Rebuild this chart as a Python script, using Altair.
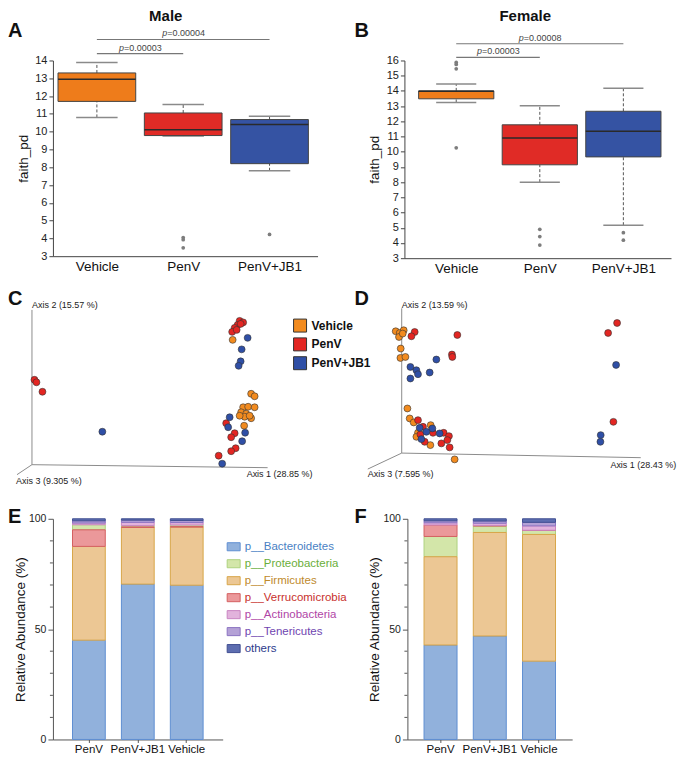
import json
import altair as alt
import pandas as pd

FONT = "Liberation Sans"

# ---------------- data ----------------
groups = ["Vehicle", "PenV", "PenV+JB1"]

# A: Male faith_pd box statistics
male_lo = [10.80, 9.75, 7.80]
male_q1 = [11.70, 9.78, 8.20]
male_med = [12.95, 10.10, 10.40]
male_q3 = [13.30, 11.05, 10.68]
male_hi = [13.88, 11.52, 10.86]
male_out_group = ["PenV", "PenV", "PenV", "PenV+JB1"]
male_out_value = [4.05, 3.93, 3.47, 4.22]
male_p_to = ["PenV", "PenV+JB1"]
male_p_text = ["=0.00003", "=0.00004"]

# B: Female faith_pd box statistics
female_lo = [13.24, 8.00, 5.17]
female_q1 = [13.48, 9.14, 9.66]
female_med = [13.97, 10.90, 11.34]
female_q3 = [14.00, 11.77, 12.66]
female_hi = [14.45, 13.03, 14.17]
female_out_group = ["Vehicle"] * 4 + ["PenV"] * 3 + ["PenV+JB1"] * 2
female_out_value = [15.87, 15.74, 15.45, 10.26, 4.90, 4.42, 3.86, 4.68, 4.18]
female_p_to = ["PenV", "PenV+JB1"]
female_p_text = ["=0.00003", "=0.00008"]

# C: Male PCoA (projected coordinates relative to the 3-D axis origin)
male_pc_group = (["PenV"] * 16 + ["Vehicle"] * 13 + ["PenV+JB1"] * 10)
male_pc_x = [208, 211.5, 206, 203, 200.5, 205, 209, 2.5, 4.5, 10.5, 194.5, 203, 199.5, 204, 199.5, 187,
             201, 219.5, 223, 211.5, 216.5, 223, 209.5, 214.5, 219.5, 213, 218, 208, 212.5,
             216, 210, 209, 207, 70.5, 198, 196.5, 213.5, 210.5, 190.5]
male_pc_y = [144, 142.5, 140, 137, 133, 135, 141, 85, 82.5, 73, 41.5, 31.5, 27.5, 16.5, 13.5, 9,
             125, 71, 68.5, 57.5, 58, 57.5, 52.5, 51, 46.5, 48, 49, 49, 39,
             127, 115.5, 103.5, 99, 33, 47.5, 37.5, 32, 23.5, 1]

# D: Female PCoA
female_pc_group = (["Vehicle"] * 16 + ["PenV"] * 18 + ["PenV+JB1"] * 14)
female_pc_x = [-6, -2, 2, -2.7, 1, -1, -1.3, 3.7, 5.7, 8, 12, 29, 16.3, 28.7, 53, 14.7,
               13, 9.7, 55.7, 50.3, 50.7, 215.7, 206.7, 212, 16.3, 21.3, 18.7, 31.3, 42, 47.3, 45.7, 23, 39.7, 48,
               34.7, 8.7, 14.7, 16.3, 8.7, 28, 214.7, 199.3, 199, 18, 30.7, 24.7, 38, 19.7]
female_pc_y = [122, 120.3, 123, 116.3, 119.7, 104.7, 95.3, 96.3, 44.7, 34.7, 30.7, 28, 20.3, 8, -6.3, 16.3,
               121.3, 117, 118.3, 98.7, 96.3, 130.3, 120.3, 31.3, 33, 26.3, 18.7, 20.3, 20.3, 17, 13, 11.3, 9.7, 5.7,
               93.7, 86.3, 83, 79, 74.7, 80.7, 88.3, 18, 11.3, 25.3, 24.7, 21.3, 19.7, 14]

male_axis_labels = ["Axis 2 (15.57 %)", "Axis 1 (28.85 %)", "Axis 3 (9.305 %)"]
female_axis_labels = ["Axis 2 (13.59 %)", "Axis 1 (28.43 %)", "Axis 3 (7.595 %)"]

# E/F: relative abundance (%)
phyla = ["p__Bacteroidetes", "p__Proteobacteria", "p__Firmicutes", "p__Verrucomicrobia",
         "p__Actinobacteria", "p__Tenericutes", "others"]
bar_groups = ["PenV", "PenV+JB1", "Vehicle"]
male_abund = {
    "p__Bacteroidetes": [45.0, 70.4, 69.9],
    "p__Proteobacteria": [2.3, 0.6, 0.8],
    "p__Firmicutes": [42.5, 25.7, 26.4],
    "p__Verrucomicrobia": [7.5, 0.2, 0.1],
    "p__Actinobacteria": [0.8, 1.5, 1.1],
    "p__Tenericutes": [1.0, 1.0, 0.9],
    "others": [0.9, 0.6, 0.8],
}
female_abund = {
    "p__Bacteroidetes": [42.8, 46.9, 35.5],
    "p__Proteobacteria": [9.2, 2.9, 1.8],
    "p__Firmicutes": [40.0, 46.9, 57.4],
    "p__Verrucomicrobia": [5.2, 0.3, 0.1],
    "p__Actinobacteria": [1.0, 1.0, 2.0],
    "p__Tenericutes": [0.9, 1.0, 1.6],
    "others": [0.9, 1.0, 1.6],
}
male_stack = ["p__Bacteroidetes", "p__Firmicutes", "p__Verrucomicrobia", "p__Proteobacteria",
              "p__Actinobacteria", "p__Tenericutes", "others"]
female_stack = ["p__Bacteroidetes", "p__Firmicutes", "p__Proteobacteria", "p__Verrucomicrobia",
                "p__Actinobacteria", "p__Tenericutes", "others"]
minor_ticks = [10, 20, 30, 40, 60, 70, 80, 90]

# ---------------- styles ----------------
BOX_COLORS = ["#ee7c1b", "#e02b26", "#3553a3"]
PC_COLORS = ["#f28b1f", "#e32622", "#2f4fa6"]
PHYLUM_FILL = ["#91b1dc", "#d3e6a9", "#ecc794", "#eb989a", "#e2b3dc", "#b4a1d6", "#5d6db0"]
PHYLUM_STROKE = ["#5f8fd2", "#aed27f", "#d8a649", "#d45f60", "#c985c2", "#8b73c2", "#404f92"]
PHYLUM_TEXT = ["#4a7fc4", "#6aae3a", "#c08a2c", "#c8302c", "#b045a6", "#6f45b0", "#2e3a8c"]
BOX_HALF = 0.45
CAP_HALF = 0.24
IND = dict(color="independent", fill="independent", stroke="independent")
LEFT = 45  # panel letters sit this far left of the shared column origin


def text_label(txt, x, y, size, weight="bold", align="left"):
    return alt.Chart(pd.DataFrame({"t": [txt]})).mark_text(
        fontSize=size, fontWeight=weight, align=align, baseline="top", color="#111"
    ).encode(x=alt.value(x), y=alt.value(y), text="t:N")


def box_panel(lo, q1, med, q3, hi, out_g, out_v, p_to, p_text, p_levels,
              ydom, xdom, w, h, title, title_xy, letter, letter_xy, title_pad):
    n = len(groups)
    df = pd.DataFrame({"group": groups, "idx": list(range(n)), "lo": lo, "q1": q1,
                       "med": med, "q3": q3, "hi": hi})
    df["xl"] = df["idx"] - BOX_HALF
    df["xr"] = df["idx"] + BOX_HALF
    df["cl"] = df["idx"] - CAP_HALF
    df["cr"] = df["idx"] + CAP_HALF
    out = pd.DataFrame({"idx": [groups.index(g) for g in out_g], "value": out_v})
    pdf = pd.DataFrame({"x0": [0] * len(p_to), "x1": [groups.index(g) for g in p_to],
                        "level": p_levels, "label": p_text})
    pdf["xm"] = (pdf["x0"] + pdf["x1"]) / 2

    xscale = alt.Scale(domain=xdom, nice=False, zero=False)
    xaxis = alt.Axis(values=list(range(n)), labelExpr=f"{json.dumps(groups)}[datum.value]",
                     title=None, ticks=False, grid=False, labelFontSize=13.5, labelPadding=3,
                     labelColor="#111", domainColor="#444", labelFlush=False, labelOverlap=False)
    yscale = alt.Scale(domain=ydom, nice=False, zero=False)
    yaxis = alt.Axis(values=list(range(ydom[0], ydom[1] + 1)), title="faith_pd", titleFontSize=13.5,
                     titleFontWeight="normal", titleColor="#111", titlePadding=title_pad,
                     labelFontSize=11, labelColor="#222", tickSize=4, tickColor="#444",
                     domainColor="#444", grid=False, labelOverlap=False)

    def X(f):
        return alt.X(f, type="quantitative", scale=xscale, axis=xaxis)

    def Y(f):
        return alt.Y(f, type="quantitative", scale=yscale, axis=yaxis)

    base = alt.Chart(df)
    wh_up = base.mark_rule(color="#555", strokeDash=[3, 2], strokeWidth=1).encode(x=X("idx"), y=Y("q3"), y2="hi:Q")
    wh_dn = base.mark_rule(color="#555", strokeDash=[3, 2], strokeWidth=1).encode(x=X("idx"), y=Y("lo"), y2="q1:Q")
    cap_up = base.mark_rule(color="#8a8a8a", strokeWidth=1.5).encode(x=X("cl"), x2="cr:Q", y=Y("hi"))
    cap_dn = base.mark_rule(color="#8a8a8a", strokeWidth=1.5).encode(x=X("cl"), x2="cr:Q", y=Y("lo"))
    box = base.mark_rect(stroke="#444", strokeWidth=1).encode(
        x=X("xl"), x2="xr:Q", y=Y("q1"), y2="q3:Q",
        fill=alt.Fill("group:N", scale=alt.Scale(domain=groups, range=BOX_COLORS), legend=None))
    median = base.mark_rule(color="#2a2a2a", strokeWidth=1.5).encode(x=X("xl"), x2="xr:Q", y=Y("med"))
    outl = alt.Chart(out).mark_circle(size=14, color="#7d7d7d", opacity=1).encode(x=X("idx"), y=Y("value"))
    pl = alt.Chart(pdf).mark_rule(color="#777", strokeWidth=1.2).encode(x=X("x0"), x2="x1:Q", y=Y("level"))
    p_it = alt.Chart(pdf).mark_text(text="p", fontStyle="italic", fontSize=9, align="right",
                                    baseline="bottom", dx=-16, dy=-1, color="#444").encode(x=X("xm"), y=Y("level"))
    p_rest = alt.Chart(pdf).mark_text(fontSize=9, align="left", baseline="bottom", dx=-16, dy=-1,
                                      color="#444").encode(x=X("xm"), y=Y("level"), text="label:N")
    ttl = text_label(title, title_xy[0], title_xy[1], 15, align="center")
    let = text_label(letter, letter_xy[0], letter_xy[1], 20)
    return alt.layer(wh_up, wh_dn, cap_up, cap_dn, box, median, outl, pl, p_it, p_rest, ttl, let).properties(
        width=w, height=h)


def bar_panel(abund, stack, w, h, pad_outer, letter, letter_xy, title_pad):
    rows = []
    for ph in phyla:
        for g, v in zip(bar_groups, abund[ph]):
            rows.append({"group": g, "phylum": ph, "value": v, "rank": stack.index(ph)})
    df = pd.DataFrame(rows)
    yscale = alt.Scale(domain=[0, 100], nice=False, zero=True)
    yaxis = alt.Axis(values=[0, 50, 100], title="Relative Abundance (%)", titleFontSize=13.5,
                     titleFontWeight="normal", titleColor="#111", titlePadding=title_pad,
                     labelFontSize=10.5, labelColor="#222", tickSize=5, tickColor="#555",
                     domainColor="#555", grid=False)
    bars = alt.Chart(df).mark_bar(strokeWidth=1).encode(
        x=alt.X("group:N", sort=bar_groups,
                scale=alt.Scale(domain=bar_groups, paddingInner=0.33, paddingOuter=pad_outer),
                axis=alt.Axis(title=None, labelAngle=0, labelFontSize=11.5, labelColor="#111",
                              tickSize=3, labelPadding=1, domainColor="#555", tickColor="#555")),
        y=alt.Y("value:Q", stack="zero", scale=yscale, axis=yaxis),
        color=alt.Color("phylum:N", scale=alt.Scale(domain=phyla, range=PHYLUM_FILL), legend=None),
        stroke=alt.Stroke("phylum:N", scale=alt.Scale(domain=phyla, range=PHYLUM_STROKE), legend=None),
        order=alt.Order("rank:Q", sort="ascending"),
    )
    minor = alt.Chart(pd.DataFrame({"value": minor_ticks})).mark_rule(color="#555").encode(
        y=alt.Y("value:Q", scale=yscale, axis=yaxis), x=alt.value(-3), x2=alt.value(0))
    let = text_label(letter, letter_xy[0], letter_xy[1], 20)
    return alt.layer(bars, minor, let).properties(width=w, height=h)


# ---------------- row 1 ----------------
A = box_panel(male_lo, male_q1, male_med, male_q3, male_hi, male_out_group, male_out_value,
              male_p_to, male_p_text, [14.39, 15.18], [3, 14], [-0.509, 2.556], 265, 196,
              "Male", (113, -52), "A", (-LEFT, -40), 4.5)
B = box_panel(female_lo, female_q1, female_med, female_q3, female_hi, female_out_group, female_out_value,
              female_p_to, female_p_text, [16.2, 17.1], [3, 16], [-0.62, 2.57], 267, 198,
              "Female", (121, -52), "B", (-50, -40), 5)
row1 = alt.hconcat(A, B, spacing=37).resolve_scale(**IND)

# ---------------- row 2 (PCoA) ----------------
ROW2_W, ROW2_H = 624, 204
C_ORIGIN = (-21, 23.7)
D_ORIGIN = (349.3, 35.3)
pc = pd.concat([
    pd.DataFrame({"group": male_pc_group,
                  "x": [C_ORIGIN[0] + v for v in male_pc_x],
                  "y": [C_ORIGIN[1] + v for v in male_pc_y]}),
    pd.DataFrame({"group": female_pc_group,
                  "x": [D_ORIGIN[0] + v for v in female_pc_x],
                  "y": [D_ORIGIN[1] + v for v in female_pc_y]}),
], ignore_index=True)

c_axis_ends = [(0, 155), (236, -3), (-15, -10)]
d_axis_ends = [(0, 145), (239.4, -4.6), (-34, -16)]
c_label_pos = [(0, 160), (215, -9), (-16, -16.4)]
d_label_pos = [(0, 148.7), (209, -12), (-34, -21.3)]

axis_lines = pd.DataFrame(
    [{"x": o[0], "y": o[1], "x2": o[0] + e[0], "y2": o[1] + e[1]}
     for o, ends in ((C_ORIGIN, c_axis_ends), (D_ORIGIN, d_axis_ends)) for e in ends])
axis_text = pd.DataFrame(
    [{"label": lab, "x": o[0] + p[0], "y": o[1] + p[1]}
     for o, labs, pos in ((C_ORIGIN, male_axis_labels, c_label_pos), (D_ORIGIN, female_axis_labels, d_label_pos))
     for lab, p in zip(labs, pos)])

X2 = alt.X("x:Q", scale=alt.Scale(domain=[0, ROW2_W], nice=False, zero=False), axis=None)
Y2 = alt.Y("y:Q", scale=alt.Scale(domain=[0, ROW2_H], nice=False, zero=False), axis=None)
pc_color = alt.Color("group:N", scale=alt.Scale(domain=groups, range=PC_COLORS), legend=None)

lines = alt.Chart(axis_lines).mark_rule(color="#8c8c8c", strokeWidth=1).encode(
    x=X2, y=Y2, x2="x2:Q", y2="y2:Q")
labels = alt.Chart(axis_text).mark_text(fontSize=9, align="left", baseline="middle", color="#222").encode(
    x=X2, y=Y2, text="label:N")
points = alt.Chart(pc).mark_circle(size=48, opacity=1, stroke="#333", strokeWidth=0.6).encode(
    x=X2, y=Y2, color=pc_color)

# manual legend for the PCoA colours (its own row index scale)
leg_pc = pd.DataFrame({"group": groups, "k": list(range(len(groups)))})
Y_leg = alt.Y("k:Q", scale=alt.Scale(domain=[-2.175, 8.65], reverse=True, nice=False, zero=False), axis=None)
leg_sq = alt.Chart(leg_pc).mark_square(size=169, opacity=1, stroke="#333", strokeWidth=1).encode(
    x=alt.value(247.5), y=Y_leg, color=pc_color)
leg_tx = alt.Chart(leg_pc).mark_text(align="left", baseline="middle", fontSize=12, fontWeight="bold",
                                     color="#111").encode(x=alt.value(259), y=Y_leg, text="group:N")

row2 = alt.layer(lines, points, labels, leg_sq, leg_tx,
                 text_label("C", -LEFT, 4.6, 20), text_label("D", 302, 4.6, 20)).resolve_scale(
    y="independent").properties(width=ROW2_W, height=ROW2_H)

# ---------------- row 3 ----------------
E = bar_panel(male_abund, male_stack, 170, 221, 0.40, "E", (-LEFT, -12), 1)
F = bar_panel(female_abund, female_stack, 165, 221, 0.338, "F", (-53, -12), 1.5)

RECT = "M-1,-0.62L1,-0.62L1,0.62L-1,0.62Z"
leg_df = pd.DataFrame({"phylum": phyla, "k": list(range(len(phyla)))})
yleg = alt.Y("k:Q", scale=alt.Scale(domain=[-1.647, 7.413], reverse=True, nice=False, zero=False), axis=None)
leg_sym = alt.Chart(leg_df).mark_point(shape=RECT, filled=True, size=169, strokeWidth=1, opacity=1).encode(
    y=yleg, x=alt.value(11),
    fill=alt.Fill("phylum:N", scale=alt.Scale(domain=phyla, range=PHYLUM_FILL), legend=None),
    stroke=alt.Stroke("phylum:N", scale=alt.Scale(domain=phyla, range=PHYLUM_STROKE), legend=None))
leg_txt = alt.Chart(leg_df).mark_text(align="left", baseline="middle", fontSize=11.5).encode(
    y=yleg, x=alt.value(22), text="phylum:N",
    color=alt.Color("phylum:N", scale=alt.Scale(domain=phyla, range=PHYLUM_TEXT), legend=None))
Eleg = alt.layer(leg_sym, leg_txt).properties(width=132, height=154)

row3 = alt.hconcat(E, Eleg, F, spacing=0).resolve_scale(**IND)

chart = alt.vconcat(
    alt.vconcat(row1, row2, spacing=9.5).resolve_scale(**IND),
    row3, spacing=18,
).resolve_scale(**IND).properties(padding=0).configure(font=FONT).configure_view(stroke=None)

chart.save("out.html", embed_options={"renderer": "svg", "actions": False})
